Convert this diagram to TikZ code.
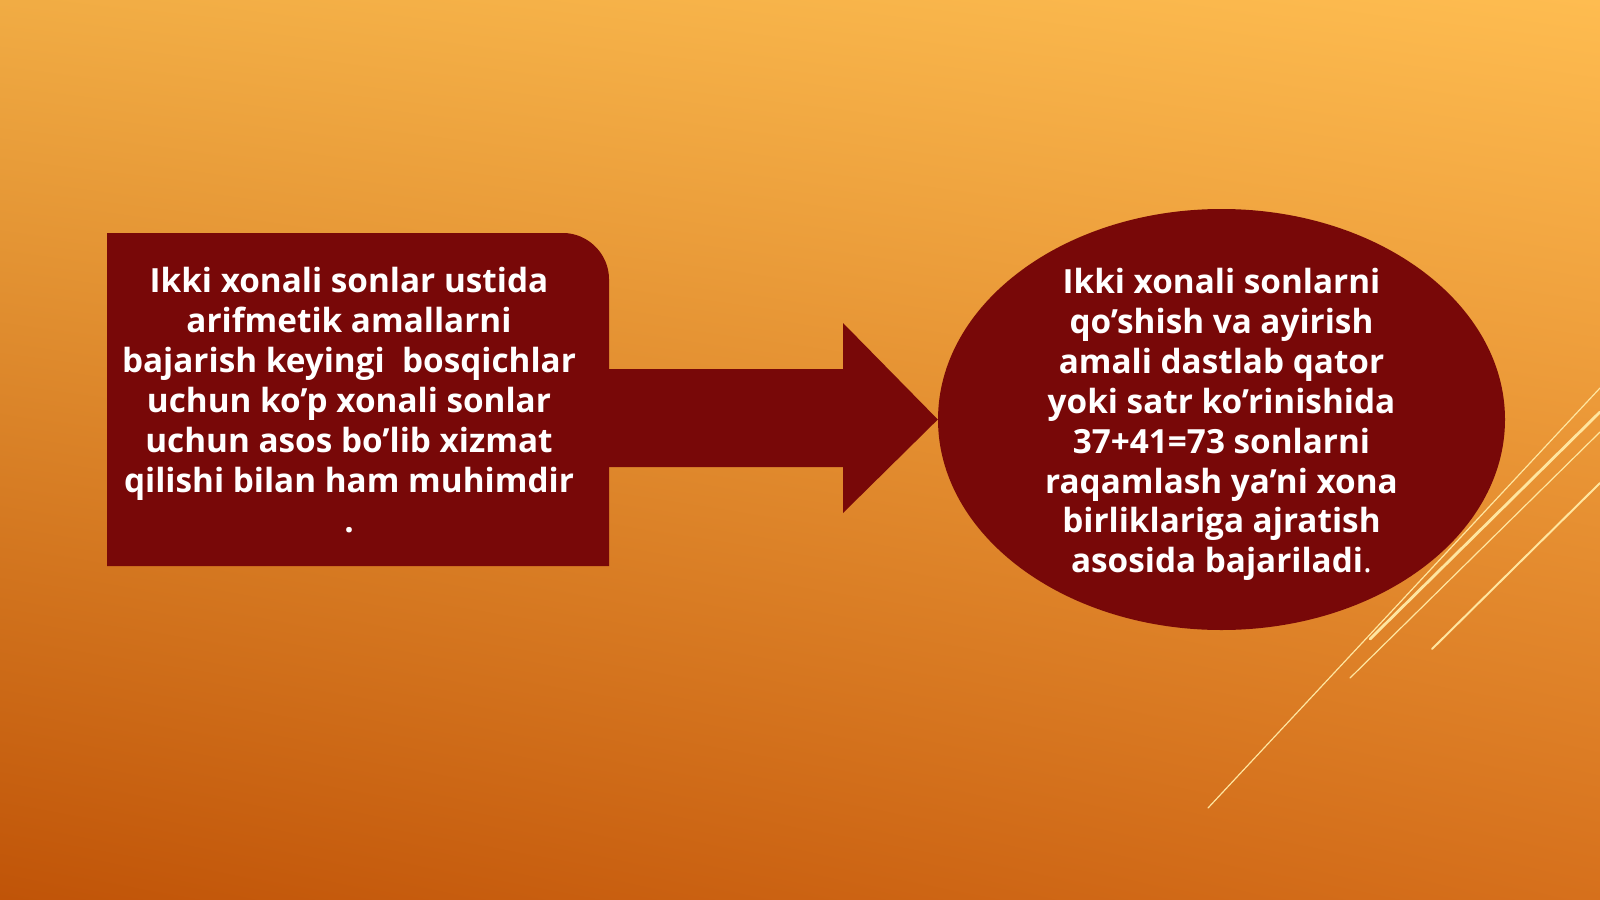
\documentclass[tikz,border=0pt]{standalone}
\usepackage{fontspec}
\setmainfont{Open Sans}
\usetikzlibrary{shapes.geometric,shadings}
\definecolor{boxred}{RGB}{120,8,8}
\definecolor{streak}{RGB}{255,230,160}
\definecolor{bgul}{RGB}{241,172,68}
\definecolor{bgur}{RGB}{254,188,80}
\definecolor{bgll}{RGB}{192,84,8}
\definecolor{bglr}{RGB}{214,112,28}
\begin{document}
\begin{tikzpicture}[x=1pt,y=-1pt,
  slidetxt/.style={text=white,align=center,inner sep=0pt,
    font=\fontsize{33.3}{39.9}\selectfont\bfseries}]
\useasboundingbox (0,0) rectangle (1600,899);
\shade[upper left=bgul,upper right=bgur,lower left=bgll,lower right=bglr] (0,0) rectangle (1600,899);
\fill[boxred] (107,566) -- (107,233) -- (563,233) .. controls (588,233) and (609,254) .. (609,279) -- (609,566) -- cycle;
\coordinate (lbox) at (609,419);
\node[ellipse,fill=boxred,minimum width=567pt,minimum height=421pt,inner sep=0pt] (oval) at (1221.5,419.5) {};
\fill[boxred] (lbox |- 0,369) -- (843,369) -- (843,323) -- (oval.west) -- (843,513) -- (843,467) -- (lbox |- 0,467) -- cycle;
\node[slidetxt] (ltext) at (349,400) {Ikki xonali sonlar ustida\\arifmetik amallarni\\bajarish keyingi\ \ bosqichlar\\uchun ko’p xonali sonlar\\uchun asos bo’lib xizmat\\qilishi bilan ham muhimdir\\.};
\node[slidetxt] (rtext) at ([yshift=-5pt]oval.center) {Ikki xonali sonlarni\\qo’shish va ayirish\\amali dastlab qator\\yoki satr ko’rinishida\\37+41=73 sonlarni\\raqamlash ya’ni xona\\birliklariga ajratish\\asosida bajariladi{\mdseries .}};
\draw[streak,line width=1.2pt,line cap=round] (1208,808) -- (1600,388);
\draw[streak,line width=2.8pt,line cap=round] (1370,639) -- (1600,412);
\draw[streak,line width=1.2pt,line cap=round] (1350,678) -- (1600,432);
\draw[streak,line width=2pt,line cap=round] (1432,649) -- (1600,483);
\end{tikzpicture}
\end{document}
